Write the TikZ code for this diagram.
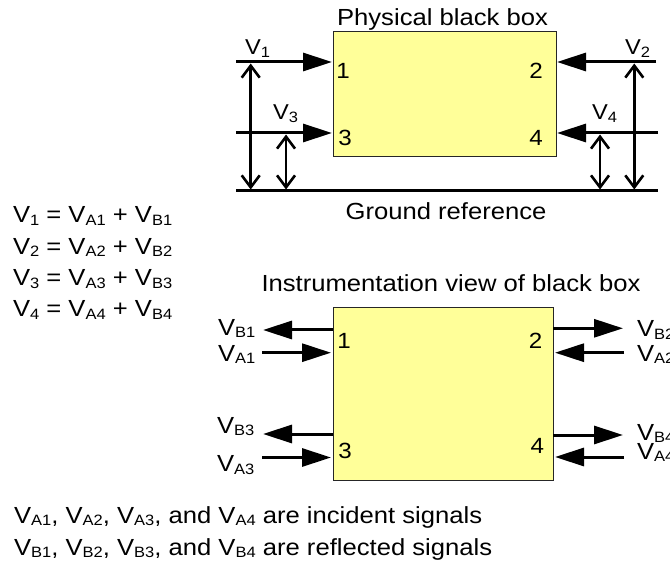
\documentclass[tikz,border=0pt]{standalone}
\usepackage{fontspec}
\setmainfont{Liberation Sans}[FakeStretch=1.1]
\usetikzlibrary{arrows.meta}
\definecolor{boxyellow}{RGB}{255,255,153}
\newcommand{\sbs}[1]{\raisebox{-0.1em}{\fontsize{15pt}{15pt}\selectfont #1}}
\begin{document}
\begin{tikzpicture}[x=1pt,y=-1pt,
  every node/.style={inner sep=0pt, outer sep=0pt, font=\fontsize{23.3pt}{28pt}\selectfont},
  lbl/.style={anchor=base west},
  smalllbl/.style={anchor=base west, font=\fontsize{21.5pt}{26pt}\selectfont},
  ttl/.style={anchor=base},
  port/.style={anchor=base, font=\fontsize{22pt}{26pt}\selectfont},
  bbox/.style={draw=black!85, line width=0.9pt, fill=boxyellow},
  sig/.style={line width=3pt, -{Triangle[length=29pt,width=18pt]}},
  gnd/.style={line width=3pt},
  volt/.style={line width=2.6pt, {Straight Barb[length=12pt,width=18pt]}-{Straight Barb[length=12pt,width=18pt]}}
]
\clip (0,0) rectangle (670,564);

% ---------- Physical black box ----------
\node[bbox, minimum width=223pt, minimum height=125pt] (pbox) at (444.5,93.5) {};
\node[ttl] (ptitle) at (442.5,26) {Physical black box};
\node[ttl] (gtitle) at (446,220) {Ground reference};
\node[port] (p1) at (343,79) {1};
\node[port] (p2) at (536,79) {2};
\node[port] (p3) at (345,146) {3};
\node[port] (p4) at (536,146) {4};

\coordinate (a1s) at (236,62);   \coordinate (a1e) at (332,62);
\coordinate (a3s) at (236,133);  \coordinate (a3e) at (332,133);
\coordinate (a2s) at (656,62);   \coordinate (a2e) at (557,62);
\coordinate (a4s) at (658,133);  \coordinate (a4e) at (557,133);
\coordinate (gl) at (236,191);   \coordinate (gr) at (658,191);
\draw[sig] (a1s) -- (a1e);
\draw[sig] (a3s) -- (a3e);
\draw[sig] (a2s) -- (a2e);
\draw[sig] (a4s) -- (a4e);
\draw[gnd] (gl) -- (gr);

\coordinate (v1t) at (250.7,63.5); \coordinate (v1b) at (250.7,189.5);
\coordinate (v3t) at (286,134.5);  \coordinate (v3b) at (286,189.5);
\coordinate (v4t) at (600,134.5);  \coordinate (v4b) at (600,189.5);
\coordinate (v2t) at (634.3,63.5); \coordinate (v2b) at (634.3,189.5);
\draw[volt] (v1t) -- (v1b);
\draw[volt] (v3t) -- (v3b);
\draw[volt] (v4t) -- (v4b);
\draw[volt] (v2t) -- (v2b);

\node[smalllbl] (l1) at (245,55) {V\sbs{1}};
\node[smalllbl] (l2) at (625,55) {V\sbs{2}};
\node[smalllbl] (l3) at (273,120) {V\sbs{3}};
\node[smalllbl] (l4) at (592,120) {V\sbs{4}};

% ---------- Equations ----------
\node[lbl] (e1) at (13,222.7) {V\sbs{1} = V\sbs{A1} + V\sbs{B1}};
\node[lbl] (e2) at (13,254.5) {V\sbs{2} = V\sbs{A2} + V\sbs{B2}};
\node[lbl] (e3) at (13,285.8) {V\sbs{3} = V\sbs{A3} + V\sbs{B3}};
\node[lbl] (e4) at (13,316.7) {V\sbs{4} = V\sbs{A4} + V\sbs{B4}};

% ---------- Instrumentation view ----------
\node[ttl] (ititle) at (451,291.6) {Instrumentation view of black box};
\node[bbox, minimum width=220pt, minimum height=173pt] (ibox) at (443,393.5) {};
\node[port] (q1) at (344,348.3) {1};
\node[port] (q2) at (535.7,348.6) {2};
\node[port] (q3) at (345,458.3) {3};
\node[port] (q4) at (537.3,453.3) {4};

\coordinate (b1s) at (333,330);    \coordinate (b1e) at (263,330);
\coordinate (c1s) at (262,352.7);  \coordinate (c1e) at (331,352.7);
\coordinate (b3s) at (333,434);    \coordinate (b3e) at (263,434);
\coordinate (c3s) at (262,457.5);  \coordinate (c3e) at (331,457.5);
\coordinate (b2s) at (553,328.3);  \coordinate (b2e) at (623,328.3);
\coordinate (c2s) at (624,352.7);  \coordinate (c2e) at (555,352.7);
\coordinate (b4s) at (553,435);    \coordinate (b4e) at (623,435);
\coordinate (c4s) at (624,457);    \coordinate (c4e) at (555,457);
\draw[sig] (b1s) -- (b1e);
\draw[sig] (c1s) -- (c1e);
\draw[sig] (b3s) -- (b3e);
\draw[sig] (c3s) -- (c3e);
\draw[sig] (b2s) -- (b2e);
\draw[sig] (c2s) -- (c2e);
\draw[sig] (b4s) -- (b4e);
\draw[sig] (c4s) -- (c4e);

\node[lbl] (lb1) at (218,335) {V\sbs{B1}};
\node[lbl] (la1) at (218,361) {V\sbs{A1}};
\node[lbl] (lb3) at (217,433.3) {V\sbs{B3}};
\node[lbl] (la3) at (217,471.7) {V\sbs{A3}};
\node[lbl] (lb2) at (637,337) {V\sbs{B2}};
\node[lbl] (la2) at (637,361) {V\sbs{A2}};
\node[lbl] (lb4) at (637,440) {V\sbs{B4}};
\node[lbl] (la4) at (637,459) {V\sbs{A4}};

% ---------- Notes ----------
\node[lbl] (n1) at (14,523.3) {V\sbs{A1}, V\sbs{A2}, V\sbs{A3}, and V\sbs{A4} are incident signals};
\node[lbl] (n2) at (14,555) {V\sbs{B1}, V\sbs{B2}, V\sbs{B3}, and V\sbs{B4} are reflected signals};
\end{tikzpicture}
\end{document}
